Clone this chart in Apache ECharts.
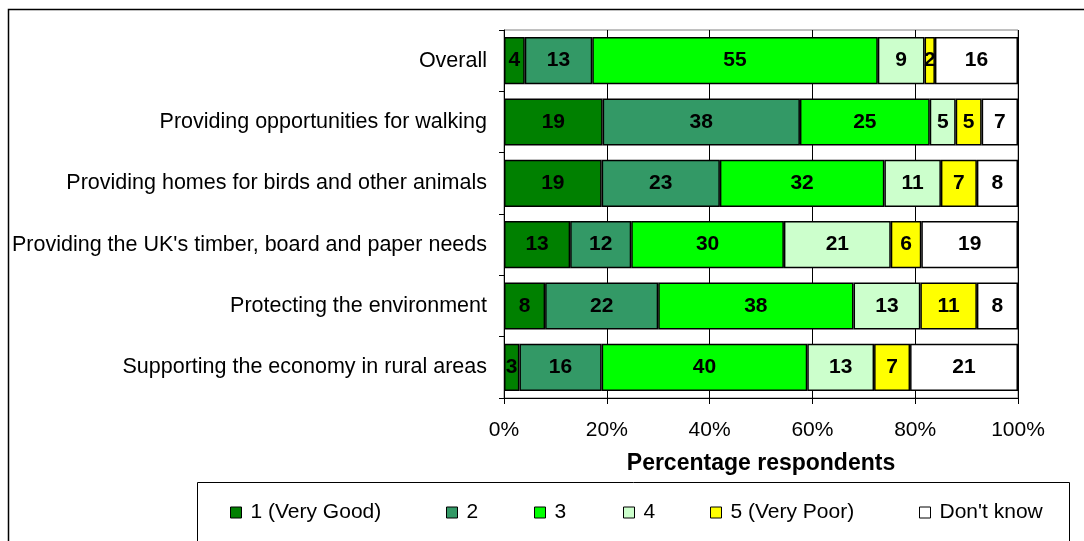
<!DOCTYPE html>
<html>
<head>
<meta charset="utf-8">
<script src="https://cdn.jsdelivr.net/npm/echarts@6/dist/echarts.min.js"></script>
<style>html,body{margin:0;padding:0;background:#fff}#c{width:1084px;height:541px}</style>
</head>
<body>
<div id="c"></div>
<script>
const categories = [
  'Overall',
  'Providing opportunities for walking',
  'Providing homes for birds and other animals',
  "Providing the UK's timber, board and paper needs",
  'Protecting the environment',
  'Supporting the economy in rural areas'
];
const seriesNames = ['1 (Very Good)', '2', '3', '4', '5 (Very Poor)', "Don't know"];
const veryGood = [4, 19, 19, 13, 8, 3];
const good     = [13, 38, 23, 12, 22, 16];
const middle   = [55, 25, 32, 30, 38, 40];
const poor     = [9, 5, 11, 21, 13, 13];
const veryPoor = [2, 5, 7, 6, 11, 7];
const dontKnow = [16, 7, 8, 19, 8, 21];
const xTickLabels = ['0%', '20%', '40%', '60%', '80%', '100%'];
const axisTitle = 'Percentage respondents';

const raw = [veryGood, good, middle, poor, veryPoor, dontKnow];
const colors = ['#008000', '#339966', '#00FF00', '#CCFFCC', '#FFFF00', '#FFFFFF'];
const totals = categories.map((c, i) => raw.reduce((s, arr) => s + arr[i], 0));
const FONT = '"Liberation Sans", Arial, sans-serif';

const series = raw.map((arr, k) => ({
  name: seriesNames[k],
  type: 'bar',
  stack: 'all',
  barCategoryGap: '23%',
  data: arr.map((v, i) => v / totals[i] * 100),
  itemStyle: { color: colors[k], borderColor: '#000', borderWidth: 1.5 },
  label: {
    show: true,
    position: 'inside',
    color: '#000',
    fontFamily: FONT,
    fontWeight: 'bold',
    fontSize: 21,
    formatter: p => String(arr[p.dataIndex])
  },
  emphasis: { disabled: true },
  animation: false
}));

const legendLefts = [225, 441, 529, 618, 705, 914];
const legends = seriesNames.map((n, k) => ({
  data: [n],
  left: legendLefts[k],
  top: 497,
  icon: 'rect',
  itemWidth: 11,
  itemHeight: 11,
  selectedMode: false,
  itemStyle: { borderColor: '#000', borderWidth: 1 },
  textStyle: { fontFamily: FONT, fontSize: 21, color: '#000', padding: [0, 0, 0, 4] }
}));

const chart = echarts.init(document.getElementById('c'), null, { renderer: 'canvas' });
chart.setOption({
  animation: false,
  backgroundColor: '#fff',
  grid: { left: 504, right: 66, top: 30, bottom: 143, show: true, borderColor: '#808080', borderWidth: 1, backgroundColor: 'transparent' },
  legend: legends,
  xAxis: {
    type: 'value',
    min: 0, max: 100, interval: 20,
    name: axisTitle,
    nameLocation: 'middle',
    nameGap: 54,
    nameTextStyle: { fontFamily: FONT, fontWeight: 'bold', fontSize: 23, color: '#000' },
    axisLine: { show: true, lineStyle: { color: '#000', width: 1 } },
    axisTick: { show: true, length: 6, lineStyle: { color: '#000' } },
    axisLabel: { fontFamily: FONT, fontSize: 21, color: '#000', margin: 22,
      formatter: v => xTickLabels[Math.round(v / 20)] },
    splitLine: { show: true, lineStyle: { color: '#000', width: 1 } }
  },
  yAxis: {
    type: 'category',
    inverse: true,
    data: categories,
    axisLine: { show: true, lineStyle: { color: '#000', width: 1 } },
    axisTick: { show: true, length: 5, lineStyle: { color: '#000' } },
    axisLabel: { fontFamily: FONT, fontSize: 21.5, color: '#000', margin: 17 },
    splitLine: { show: false }
  },
  graphic: [
    { type: 'rect', silent: true, z: 0, shape: { x: 8.5, y: 9.5, width: 1200, height: 700 },
      style: { fill: 'none', stroke: '#000', lineWidth: 1.5 } },
    { type: 'rect', silent: true, z: 0, shape: { x: 197.5, y: 482.5, width: 872, height: 200 },
      style: { fill: 'none', stroke: '#000', lineWidth: 1 } }
  ],
  series: series
});
</script>
</body>
</html>
